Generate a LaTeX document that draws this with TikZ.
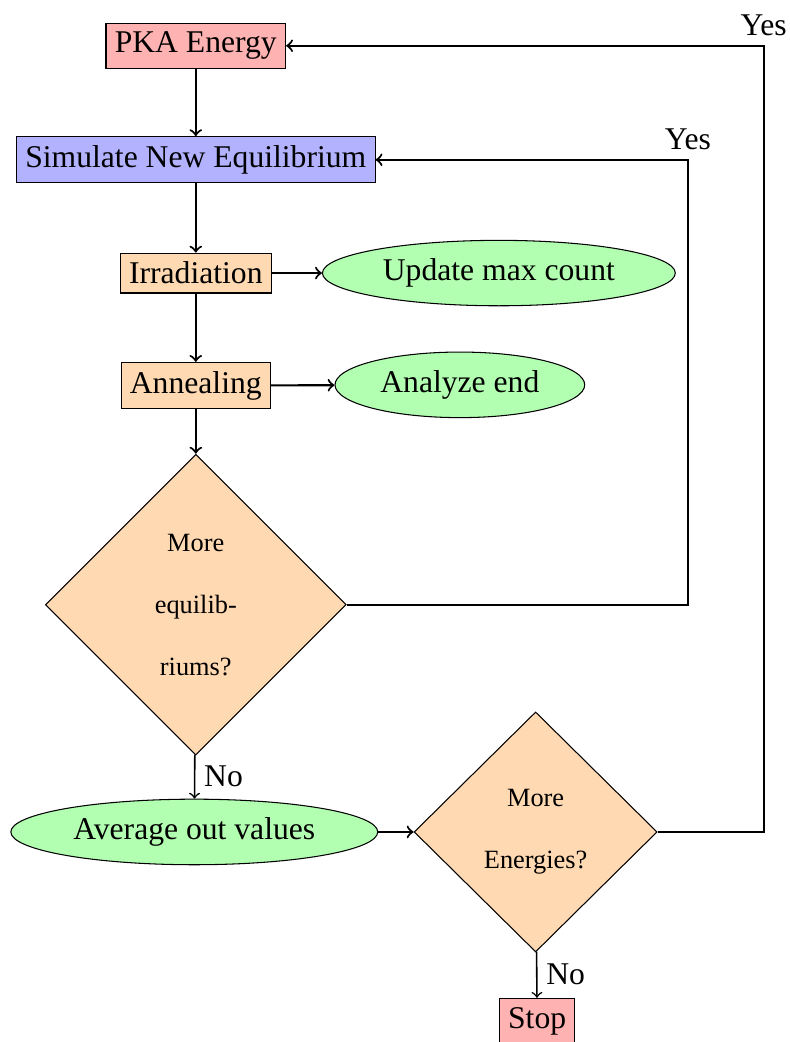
\documentclass[tikz,border=0pt]{standalone}
\usepackage{fontspec}
\setmainfont{Liberation Serif}
\usetikzlibrary{arrows,shapes.geometric,positioning}
\tikzset{
  block/.style={rectangle,draw,fill=orange!30},
  terminal/.style={rectangle,draw,fill=red!30},
  oval/.style={ellipse,draw,fill=green!30},
  decision/.style={diamond,draw,fill=orange!30,inner sep=1pt,align=center,font=\fontsize{10}{23.5}\selectfont},
  line/.style={draw,thick,->}
}
\begin{document}
\begin{tikzpicture}[font=\fontsize{12}{14.4}\selectfont]
\useasboundingbox (0,0) rectangle (10.52,-13.89);
\node[terminal] (pka) at (2.61,-0.61) {PKA Energy};
\node[rectangle,draw,fill=blue!30] (sim) at (2.61,-2.13) {Simulate New Equilibrium};
\node[block] (irr) at (2.61,-3.64) {Irradiation};
\node[oval] (upd) at (6.65,-3.64) {Update max count};
\node[block] (ann) at (2.61,-5.14) {Annealing};
\node[oval] (ana) at (6.13,-5.13) {Analyze end};
\node[decision,minimum width=4.01cm,minimum height=4.01cm] (moreq) at (2.61,-8.06) {More\\equilib-\\riums?};
\node[oval] (avg) at (2.59,-11.09) {Average out values};
\node[decision,minimum width=3.24cm,minimum height=3.2cm] (moren) at (7.14,-11.09) {More\\Energies?};
\node[terminal] (stop) at (7.16,-13.61) {Stop};
\coordinate (c1) at (9.17,-2.13);
\coordinate (c2) at (10.18,-0.61);
\draw[line] (pka) -- (sim);
\draw[line] (sim) -- (irr);
\draw[line] (irr) -- (upd);
\draw[line] (irr) -- (ann);
\draw[line] (ann) -- (ana);
\draw[line] (ann) -- (moreq);
\draw[semithick,->] (moreq) -- node[right]{No} (avg);
\draw[line] (avg) -- (moren);
\draw[semithick,->] (moren) -- node[right]{No} (stop);
\draw[line] (moreq.east) -| (c1) node[above]{Yes} -- (sim.east);
\draw[line] (moren.east) -| (c2) node[above]{Yes} -- (pka.east);
\end{tikzpicture}
\end{document}
